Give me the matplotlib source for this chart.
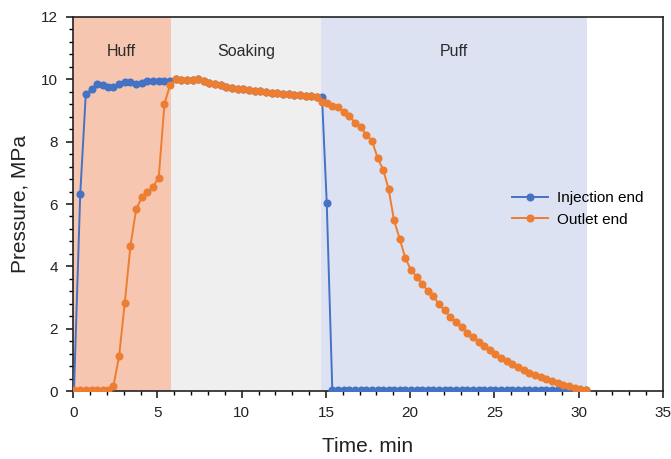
import matplotlib
matplotlib.use("Agg")
import matplotlib.pyplot as plt
from matplotlib.ticker import MultipleLocator

plt.rcParams["font.family"] = ["Liberation Sans", "DejaVu Sans"]

# ---------------------------------------------------------------------------
# Data (time in min, pressure in MPa).
# ---------------------------------------------------------------------------
t_huff = [0.05, 0.42, 0.75, 1.09, 1.42, 1.76, 2.09, 2.39, 2.73, 3.06, 3.40,
          3.74, 4.07, 4.41, 4.74, 5.08, 5.42, 5.75]
t_soak = [6.08, 6.42, 6.75, 7.09, 7.42, 7.76, 8.09, 8.43, 8.76, 9.10, 9.43,
          9.77, 10.10, 10.44, 10.77, 11.11, 11.44, 11.78, 12.11, 12.45, 12.78,
          13.12, 13.45, 13.79, 14.12, 14.46, 14.77]
t_puff = [15.05, 15.38, 15.72, 16.05, 16.39, 16.73, 17.06, 17.40, 17.73,
          18.07, 18.41, 18.72, 19.04, 19.38, 19.71, 20.05, 20.39, 20.72,
          21.06, 21.37, 21.71, 22.05, 22.38, 22.72, 23.05, 23.39, 23.72,
          24.06, 24.40, 24.73, 25.05, 25.39, 25.72, 26.06, 26.39, 26.73,
          27.06, 27.40, 27.74, 28.07, 28.41, 28.75, 29.08, 29.42, 29.76,
          30.09, 30.43]

inj_huff = [0.0, 6.31, 9.52, 9.68, 9.84, 9.82, 9.77, 9.75, 9.86, 9.93, 9.93,
            9.86, 9.88, 9.94, 9.94, 9.94, 9.94, 9.96]
inj_soak = [10.0, 9.99, 9.97, 9.97, 10.0, 9.96, 9.89, 9.85, 9.81, 9.76, 9.73,
            9.70, 9.68, 9.66, 9.63, 9.61, 9.59, 9.57, 9.55, 9.54, 9.52, 9.51,
            9.49, 9.47, 9.45, 9.44, 9.42]
inj_puff = [6.02] + [0.03] * 46

out_huff = [0.02, 0.02, 0.02, 0.02, 0.02, 0.02, 0.02, 0.16, 1.13, 2.81, 4.65,
            5.83, 6.21, 6.37, 6.55, 6.85, 9.22, 9.81]
out_soak = [10.0, 9.99, 9.97, 9.97, 10.0, 9.96, 9.89, 9.85, 9.81, 9.76, 9.73,
            9.70, 9.68, 9.66, 9.63, 9.61, 9.59, 9.57, 9.55, 9.54, 9.52, 9.51,
            9.49, 9.47, 9.45, 9.44, 9.28]
out_puff = [9.25, 9.14, 9.10, 8.94, 8.82, 8.61, 8.48, 8.21, 8.03, 7.48, 7.08,
            6.48, 5.48, 4.88, 4.27, 3.88, 3.67, 3.43, 3.21, 3.04, 2.79, 2.59,
            2.38, 2.20, 2.04, 1.87, 1.72, 1.57, 1.44, 1.32, 1.20, 1.07, 0.96,
            0.86, 0.76, 0.67, 0.59, 0.51, 0.44, 0.38, 0.31, 0.26, 0.20, 0.15,
            0.11, 0.06, 0.03]

stages = ["Huff", "Soaking", "Puff"]
stage_bounds = [(0.0, 5.78), (5.78, 14.72), (14.72, 30.5)]
stage_colors = ["#F7C6B1", "#EFEFEF", "#DCE2F1"]
stage_label_x = [2.85, 10.25, 22.6]

time = t_huff + t_soak + t_puff
injection = inj_huff + inj_soak + inj_puff
outlet = out_huff + out_soak + out_puff

# ---------------------------------------------------------------------------
# Plot.
# ---------------------------------------------------------------------------
fig = plt.figure(figsize=(6.71, 4.59), dpi=100)
ax = fig.add_axes([0.109, 0.148, 0.879, 0.815])

for name, (x0, x1), color, lx in zip(stages, stage_bounds, stage_colors, stage_label_x):
    ax.axvspan(x0, x1, color=color, lw=0, zorder=0)
    ax.text(lx, 10.88, name, ha="center", va="center", fontsize=11.5, color="#2b2b2b")

ax.plot(time, injection, "-o", color="#4472C4", lw=1.4, ms=4.8,
        label="Injection end", zorder=3)
ax.plot(time, outlet, "-o", color="#ED7D31", lw=1.4, ms=4.8,
        label="Outlet end", zorder=4)

ax.set_xlim(0, 35)
ax.set_ylim(0, 12)
ax.xaxis.set_major_locator(MultipleLocator(5))
ax.xaxis.set_minor_locator(MultipleLocator(1))
ax.yaxis.set_major_locator(MultipleLocator(2))
ax.yaxis.set_minor_locator(MultipleLocator(0.4))
ax.tick_params(which="major", direction="out", length=5, width=1.2,
               labelsize=11, colors="#222222", pad=6)
ax.tick_params(which="minor", direction="out", length=3, width=1.0)
for sp in ax.spines.values():
    sp.set_linewidth(1.2)
    sp.set_color("#222222")

ax.set_xlabel("Time. min", fontsize=15, color="#222222", labelpad=12)
ax.set_ylabel("Pressure, MPa", fontsize=15, color="#222222", labelpad=8)

ax.legend(loc="center left", bbox_to_anchor=(0.72, 0.487), frameon=False,
          fontsize=11, handlelength=2.4, handletextpad=0.6, labelspacing=0.5)

fig.savefig("out.png", dpi=100)
